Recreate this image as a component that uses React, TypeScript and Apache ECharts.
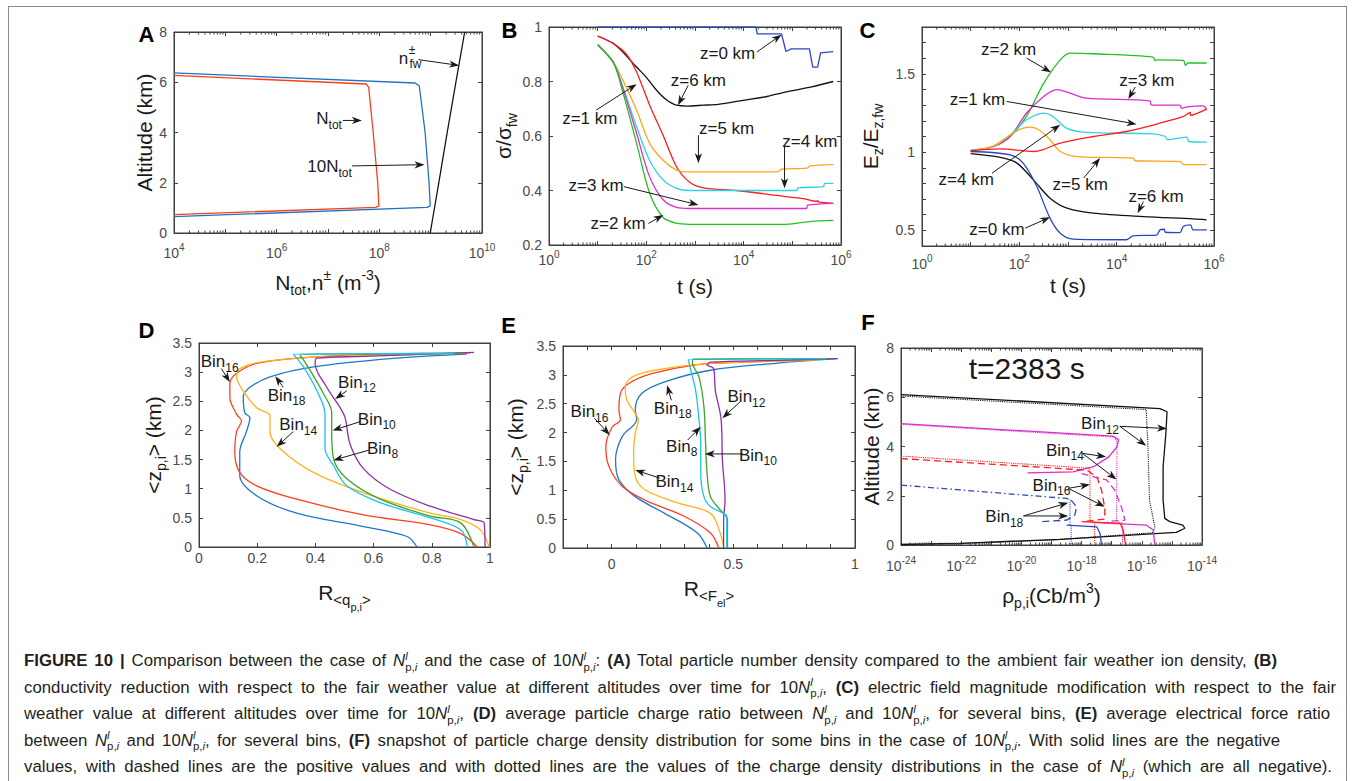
import React, { useEffect, useRef } from "react";
import * as echarts from "echarts";

const FONT = "'Liberation Sans', Arial, Helvetica, sans-serif";
const AX = "#3f3f3f";
const TICK = "#4a4a4a";
const INK = "#1a1a1a";

// ---------------- Panel A: particle density / fair weather ions vs altitude ----------------
const aNtot = [[1e4, 0.73], [8.5e7, 1.02], [9.8e7, 1.08], [9.3e7, 2.0], [7.6e7, 4.0], [6.2e7, 5.8], [5.6e7, 5.93], [1e4, 6.27]];
const aTenNtot = [[1e4, 0.65], [8.5e8, 1.02], [9.8e8, 1.08], [9.3e8, 2.0], [7.8e8, 4.0], [6.0e8, 5.85], [5.0e8, 5.97], [1e4, 6.37]];
const aNfw = [[9.8e8, 0], [1.44e9, 2], [2.1e9, 4], [3.1e9, 6], [4.6e9, 8]];

// ---------------- Panel B: sigma / sigma_fw vs t ----------------
const bZ0 = [[10, 1], [17800, 1], [19000, 0.975], [60000, 0.975], [74000, 0.91], [95000, 0.92], [224000, 0.92], [263000, 0.853], [331000, 0.853], [380000, 0.905], [692000, 0.91]];
const bZ6 = [[10, 0.967], [21, 0.94], [30, 0.915], [63, 0.853], [100, 0.815], [162, 0.768], [250, 0.735], [417, 0.713], [700, 0.71], [1480, 0.713], [3000, 0.716], [9800, 0.731], [30000, 0.745], [76000, 0.762], [250000, 0.78], [692000, 0.8]];
const bZ1 = [[10, 0.967], [21, 0.939], [39, 0.9], [63, 0.835], [117, 0.713], [224, 0.6], [417, 0.487], [776, 0.43], [1480, 0.41], [7080, 0.4], [34700, 0.385], [170000, 0.37], [316000, 0.36], [330000, 0.364], [340000, 0.358], [692000, 0.353]];
const bZ5 = [[10, 0.935], [21, 0.87], [33, 0.805], [63, 0.695], [117, 0.573], [224, 0.51], [417, 0.475], [676, 0.468], [34700, 0.468], [52000, 0.47], [60000, 0.478], [200000, 0.482], [229000, 0.49], [692000, 0.495]];
const bZ4 = [[10, 0.935], [21, 0.87], [33, 0.78], [63, 0.634], [117, 0.51], [224, 0.438], [417, 0.408], [776, 0.4], [123000, 0.4], [130000, 0.41], [436000, 0.414], [460000, 0.426], [692000, 0.426]];
const bZ3 = [[10, 0.935], [21, 0.87], [33, 0.774], [63, 0.61], [117, 0.45], [224, 0.365], [417, 0.338], [776, 0.334], [195000, 0.334], [205000, 0.346], [692000, 0.353]];
const bZ2 = [[10, 0.935], [21, 0.87], [33, 0.76], [63, 0.573], [117, 0.39], [224, 0.3], [417, 0.28], [776, 0.276], [64600, 0.276], [229000, 0.286], [692000, 0.29]];

// ---------------- Panel C: E_z / E_z,fw vs t ----------------
const cZ2 = [[10, 1.01], [29.5, 1.036], [64.6, 1.1], [141, 1.23], [316, 1.44], [692, 1.59], [1100, 1.633], [3300, 1.629], [56000, 1.608], [62000, 1.584], [66000, 1.59], [234000, 1.586], [260000, 1.554], [290000, 1.57], [708000, 1.57]];
const cZ3 = [[10, 1.01], [29.5, 1.036], [64.6, 1.1], [141, 1.25], [316, 1.356], [589, 1.4], [1100, 1.377], [2400, 1.345], [47900, 1.328], [52000, 1.3], [200000, 1.3], [215000, 1.28], [280000, 1.29], [600000, 1.296], [708000, 1.27]];
const cZ4 = [[10, 1.01], [29.5, 1.036], [64.6, 1.11], [141, 1.207], [316, 1.25], [490, 1.228], [933, 1.154], [2400, 1.126], [56000, 1.117], [100000, 1.1], [110000, 1.08], [280000, 1.096], [300000, 1.068], [708000, 1.064]];
const cZ5 = [[10, 1.01], [29.5, 1.04], [64.6, 1.11], [110, 1.15], [170, 1.16], [260, 1.14], [427, 1.079], [692, 1.004], [1514, 0.972], [7244, 0.966], [21900, 0.962], [24000, 0.945], [200000, 0.94], [240000, 0.92], [708000, 0.92]];
const cZ1 = [[10, 1.01], [40.7, 1.021], [195, 1.004], [300, 1.015], [692, 1.058], [3311, 1.1], [15849, 1.132], [77625, 1.185], [234000, 1.228], [323000, 1.254], [330000, 1.235], [708000, 1.275]];
const cZ6 = [[10, 0.99], [40.7, 0.966], [89, 0.93], [195, 0.823], [427, 0.706], [955, 0.642], [3311, 0.61], [35500, 0.588], [371500, 0.573], [708000, 0.567]];
const cZ0 = [[10, 1.004], [64.6, 0.983], [120, 0.93], [229, 0.78], [427, 0.578], [692, 0.482], [1288, 0.444], [15849, 0.44], [21878, 0.465], [66000, 0.47], [77625, 0.503], [95000, 0.507], [100000, 0.488], [200000, 0.486], [234000, 0.525], [330000, 0.535], [371500, 0.503], [708000, 0.503]];

// ---------------- Panel D: R_<q> vs <z> ----------------
const dBin14 = [[0.997, 0], [0.968, 0.29], [0.9, 0.47], [0.795, 0.58], [0.566, 0.93], [0.393, 1.28], [0.278, 1.69], [0.244, 1.98], [0.244, 2.25], [0.198, 2.39], [0.152, 2.68], [0.129, 2.92], [0.14, 3.06], [0.221, 3.18], [0.45, 3.27], [0.795, 3.31], [0.91, 3.33]];
const dBin16 = [[0.956, 0], [0.9, 0.23], [0.795, 0.38], [0.566, 0.55], [0.336, 0.82], [0.198, 1.05], [0.14, 1.28], [0.123, 1.63], [0.129, 1.98], [0.146, 2.16], [0.129, 2.28], [0.106, 2.57], [0.106, 2.8], [0.129, 2.98], [0.198, 3.15], [0.336, 3.24], [0.566, 3.3], [0.933, 3.33]];
const dBin18 = [[0.749, 0], [0.715, 0.18], [0.566, 0.35], [0.336, 0.58], [0.198, 0.88], [0.14, 1.23], [0.14, 1.63], [0.163, 1.98], [0.175, 2.22], [0.158, 2.3], [0.152, 2.57], [0.175, 2.74], [0.244, 2.92], [0.393, 3.09], [0.68, 3.24], [0.92, 3.31]];
const dBin8 = [[0.922, 0], [0.9, 0.29], [0.795, 0.5], [0.623, 0.76], [0.508, 1.05], [0.462, 1.4], [0.433, 1.69], [0.433, 2.28], [0.405, 2.68], [0.359, 3.09], [0.324, 3.31], [0.88, 3.32]];
const dBin10 = [[0.945, 0], [0.9, 0.41], [0.795, 0.53], [0.623, 0.82], [0.508, 1.17], [0.462, 1.52], [0.456, 1.98], [0.456, 2.3], [0.428, 2.63], [0.382, 3.03], [0.347, 3.3], [0.9, 3.32]];
const dBin12 = [[0.983, 0], [0.98, 0.41], [0.945, 0.47], [0.795, 0.7], [0.657, 0.99], [0.566, 1.34], [0.52, 1.75], [0.502, 2.22], [0.485, 2.39], [0.439, 2.74], [0.399, 3.15], [0.405, 3.24], [0.566, 3.27], [0.945, 3.34]];

// ---------------- Panel E: R_<F_el> vs <z> ----------------
const eBin16 = [[0.44, 0], [0.406, 0.26], [0.298, 0.55], [0.137, 0.83], [0.043, 1.07], [-0.011, 1.41], [-0.024, 1.76], [0.003, 2.1], [0.036, 2.22], [0.03, 2.39], [0.036, 2.68], [0.07, 2.85], [0.164, 3.02], [0.339, 3.17], [0.54, 3.22], [0.89, 3.28]];
const eBin18 = [[0.392, 0], [0.352, 0.26], [0.218, 0.6], [0.097, 0.89], [0.03, 1.18], [0.016, 1.53], [0.043, 1.93], [0.09, 2.13], [0.103, 2.22], [0.097, 2.39], [0.124, 2.68], [0.218, 2.88], [0.406, 3.08], [0.675, 3.2], [0.923, 3.28]];
const eBin14 = [[0.46, 0], [0.446, 0.26], [0.406, 0.6], [0.272, 0.78], [0.137, 1.01], [0.097, 1.24], [0.09, 1.64], [0.097, 1.99], [0.11, 2.22], [0.097, 2.33], [0.063, 2.56], [0.056, 2.79], [0.083, 2.96], [0.177, 3.08], [0.406, 3.2], [0.809, 3.25], [0.89, 3.28]];
const eBin8 = [[0.473, 0], [0.473, 0.55], [0.46, 0.6], [0.406, 0.72], [0.379, 0.89], [0.366, 1.3], [0.366, 1.81], [0.359, 2.22], [0.345, 2.73], [0.325, 3.08], [0.315, 3.27], [0.88, 3.28]];
const eBin10 = [[0.476, 0], [0.476, 0.49], [0.446, 0.66], [0.406, 0.89], [0.392, 1.3], [0.386, 1.81], [0.379, 2.45], [0.359, 2.96], [0.332, 3.22], [0.335, 3.27], [0.89, 3.28]];
const eBin12 = [[0.46, 0], [0.46, 0.49], [0.466, 0.83], [0.455, 1.53], [0.45, 2.22], [0.426, 2.73], [0.419, 3.11], [0.392, 3.17], [0.406, 3.22], [0.675, 3.25], [0.93, 3.28]];

// ---------------- Panel F: charge density (Cb/m^3) vs altitude ----------------
const fBlackSolid = [[1e-24, 6.11], [4e-16, 5.54], [6.9e-16, 5.41], [6.3e-16, 4.53], [5.1e-16, 3.18], [5.1e-16, 1.82], [5.8e-16, 1.08], [8.5e-16, 0.95], [2.3e-15, 0.81], [2.7e-15, 0.68], [1.4e-15, 0.51], [1.9e-19, 0.23], [9.3e-23, 0.07], [1e-24, 0.02]];
const fBlackDotted = [[1e-24, 6.05], [1.4e-16, 5.5], [1.6e-16, 3.99], [1.8e-16, 1.82], [2.7e-16, 0.74], [2.4e-16, 0.5], [1e-19, 0.2], [1e-22, 0.06], [1e-24, 0.03]];
const fMagSolidTop = [[1e-24, 4.93], [1.1e-17, 4.42], [1.7e-17, 4.28], [1.5e-17, 3.99], [8e-18, 3.58], [2.5e-18, 3.18], [5.2e-19, 2.97], [1.6e-20, 2.93]];
const fMagSolidLow = [[2.5e-18, 0.92], [1.4e-16, 0.81], [2.4e-16, 0.61], [2.7e-16, 0]];
const fMagDashed = [[1e-18, 2.9], [6.8e-18, 2.64], [1.26e-17, 2.23], [2.1e-17, 1.55], [2.75e-17, 1.01], [7e-18, 0.96]];
const fMagDotted = [[1e-24, 4.9], [1.2e-17, 4.38], [1.5e-17, 4.2], [1.45e-17, 0.95], [2.3e-17, 0.9], [2.3e-17, 0]];
const fRedDashed = [[1e-24, 3.51], [1.5e-18, 3.04], [3.2e-18, 2.77], [4.6e-18, 2.23], [5.9e-18, 1.49], [5.9e-18, 1.05], [1.1e-18, 0.95]];
const fRedDotted = [[1e-24, 3.61], [1.8e-18, 3.12], [1.9e-18, 2.9], [1.9e-18, 0.95], [2.7e-18, 0.9], [2.7e-18, 0]];
const fRedSolid = [[1e-18, 0.95], [1.9e-17, 0.88], [2.4e-17, 0.61], [2.9e-17, 0]];
const fBlueDashDot = [[1e-24, 2.43], [3.2e-19, 1.89], [4.5e-19, 1.82]];
const fBlueDashed = [[4.5e-19, 1.82], [6.8e-19, 1.55], [6e-19, 1.22], [3.2e-19, 1.01], [4.7e-20, 0.95]];
const fBlueDotted = [[4.1e-19, 1.85], [4.1e-19, 0.85], [4.5e-19, 0.8], [4.5e-19, 0]];
const fBlueSolid = [[3.2e-19, 0.81], [3.2e-18, 0.74], [4.1e-18, 0.47], [4.6e-18, 0]];
// F x axis is drawn in decades (log10 of Cb/m^3) on a linear axis, labelled as powers of ten

// ---------------- Annotations (data coordinates) ----------------
const annotations = [
  { g: 0, text: "{n|N}{s|tot}", at: [1.05e7, 4.55], arrows: [[1.95e7, 4.48, 4.57e7, 4.48]] },
  { g: 0, text: "{n|10N}{s|tot}", at: [1.07e7, 2.63], arrows: [[2.95e7, 2.67, 7.6e8, 2.72]] },
  { g: 0, text: "", at: [2.95e8, 6.94], arrows: [[5.75e8, 6.9, 3.6e9, 6.67]] },
  { g: 1, text: "{n|z=0 km}", at: [4677, 0.902], arrows: [[18621, 0.908, 60256, 0.972]] },
  { g: 1, text: "{n|z=6 km}", at: [1175, 0.805], arrows: [[724, 0.786, 447, 0.713]] },
  { g: 1, text: "{n|z=1 km}", at: [6.9, 0.664], arrows: [[9.3, 0.695, 63.1, 0.79]] },
  { g: 1, text: "{n|z=5 km}", at: [4467, 0.627], arrows: [[1175, 0.603, 1175, 0.5]] },
  { g: 1, text: "{n|z=4 km}", at: [229087, 0.579], arrows: [[69183, 0.56, 69183, 0.408]] },
  { g: 1, text: "{n|z=3 km}", at: [9.3, 0.42], arrows: [[34.7, 0.414, 1175, 0.347]] },
  { g: 1, text: "{n|z=2 km}", at: [26.3, 0.279], arrows: [[110, 0.279, 224, 0.31]] },
  { g: 2, text: "{n|z=2 km}", at: [60.3, 1.655], arrows: [[141, 1.601, 447, 1.51]] },
  { g: 2, text: "{n|z=3 km}", at: [41687, 1.458], arrows: [[23988, 1.416, 17378, 1.339]] },
  { g: 2, text: "{n|z=1 km}", at: [13.8, 1.335], arrows: [[55, 1.324, 25704, 1.179]] },
  { g: 2, text: "{n|z=4 km}", at: [8.1, 0.823], arrows: [[27.5, 0.866, 692, 1.175]] },
  { g: 2, text: "{n|z=5 km}", at: [1778, 0.791], arrows: [[2089, 0.834, 4571, 0.962]] },
  { g: 2, text: "{n|z=6 km}", at: [64565, 0.716], arrows: [[35481, 0.684, 26915, 0.61]] },
  { g: 2, text: "{n|z=0 km}", at: [34.7, 0.503], arrows: [[132, 0.514, 427, 0.584]] },
  { g: 3, text: "{n|Bin}{s|16}", at: [0.071, 3.18], arrows: [[0.077, 3.06, 0.106, 2.83]] },
  { g: 3, text: "{n|Bin}{s|18}", at: [0.301, 2.6], arrows: [[0.29, 2.74, 0.262, 2.93]] },
  { g: 3, text: "{n|Bin}{s|12}", at: [0.543, 2.83], arrows: [[0.508, 2.68, 0.468, 2.54]] },
  { g: 3, text: "{n|Bin}{s|10}", at: [0.611, 2.19], arrows: [[0.554, 2.15, 0.459, 2.0]] },
  { g: 3, text: "{n|Bin}{s|14}", at: [0.341, 2.1], arrows: [[0.324, 1.98, 0.267, 1.72]] },
  { g: 3, text: "{n|Bin}{s|8}", at: [0.631, 1.69], arrows: [[0.583, 1.66, 0.462, 1.49]] },
  { g: 4, text: "{n|Bin}{s|16}", at: [-0.091, 2.36], arrows: [[-0.071, 2.25, -0.008, 1.96]] },
  { g: 4, text: "{n|Bin}{s|18}", at: [0.251, 2.42], arrows: [[0.245, 2.56, 0.228, 2.82]] },
  { g: 4, text: "{n|Bin}{s|12}", at: [0.554, 2.62], arrows: [[0.527, 2.53, 0.455, 2.25]] },
  { g: 4, text: "{n|Bin}{s|8}", at: [0.288, 1.76], arrows: [[0.312, 1.87, 0.366, 2.1]] },
  { g: 4, text: "{n|Bin}{s|10}", at: [0.601, 1.61], arrows: [[0.54, 1.63, 0.383, 1.63]] },
  { g: 4, text: "{n|Bin}{s|14}", at: [0.258, 1.15], arrows: [[0.198, 1.21, 0.097, 1.35]] },
  { g: 5, text: "{n|Bin}{s|12}", at: [4.1e-18, 4.93], arrows: [[1.86e-17, 4.82, 6.9e-16, 4.73], [1.86e-17, 4.82, 1.4e-16, 4.03]] },
  { g: 5, text: "{n|Bin}{s|14}", at: [2.8e-19, 3.85], arrows: [[1.07e-18, 3.72, 6.5e-18, 3.58], [1.07e-18, 3.72, 1.45e-17, 2.66]] },
  { g: 5, text: "{n|Bin}{s|16}", at: [1e-19, 2.43], arrows: [[3.6e-19, 2.3, 1.9e-18, 2.46], [3.6e-19, 2.3, 5.9e-18, 1.55]] },
  { g: 5, text: "{n|Bin}{s|18}", at: [2.7e-21, 1.15], arrows: [[1.17e-20, 1.18, 3.6e-19, 1.72], [1.17e-20, 1.18, 3.6e-19, 1.18]] },
];
const fTitle = { text: "t=2383 s", at: [1.5e-20, 7.16] };

// ---------------- Layout ----------------
const grids = [
  { left: 174, top: 32, width: 308, height: 201 },
  { left: 549, top: 27, width: 292, height: 218 },
  { left: 922, top: 27, width: 292, height: 219 },
  { left: 199, top: 343, width: 291, height: 204 },
  { left: 563, top: 346, width: 292, height: 202 },
  { left: 901, top: 348, width: 301, height: 197 },
];
const letters = [
  { t: "A", x: 146.5, y: 34.5 }, { t: "B", x: 509.5, y: 30 }, { t: "C", x: 867.5, y: 30 },
  { t: "D", x: 146.5, y: 330 }, { t: "E", x: 508.5, y: 325 }, { t: "F", x: 868, y: 322 },
];

const logFmt = (v: number) => {
  const e = Math.round(Math.log10(v));
  return e % 2 === 0 ? `{b|10}{s|${e}}` : "";
};
const expFmt = (v: number) => {
  const e = Math.round(v);
  return e % 2 === 0 ? `{b|10}{s|${e}}` : "";
};
const pickFmt = (keep: number[]) => (v: number) => {
  const r = Math.round(v * 10) / 10;
  const k = keep.find((q) => Math.abs(q - r) < 1e-6);
  return k === undefined ? "" : String(k);
};

const panels: any[] = [
  { x: { type: "log", min: 1e4, max: 1e10, splitNumber: 6, fmt: logFmt, margin: 9 }, y: { min: 0, max: 8, interval: 2, margin: 7 },
    xName: "{n|N}{s|tot}{n|,n}{p|±}{n| (m}{p|-3}{n|)}", xGap: 34, yName: "{n|Altitude (km)}", yGap: 17 },
  { x: { type: "log", min: 1, max: 1e6, splitNumber: 6, fmt: logFmt, margin: 4 }, y: { min: 0.2, max: 1, interval: 0.2, margin: 7 },
    xName: "{n|t (s)}", xGap: 31, yName: "{n|σ/σ}{s|fw}", yGap: 28 },
  { x: { type: "log", min: 1, max: 1e6, splitNumber: 6, fmt: logFmt, margin: 7.5 }, y: { min: 0.4, max: 1.8, interval: 0.1, fmt: pickFmt([0.5, 1, 1.5]), margin: 7 },
    xName: "{n|t (s)}", xGap: 29, yName: "{n|E}{s|z}{n|/E}{s|z,fw}", yGap: 37 },
  { x: { type: "value", min: 0, max: 1, interval: 0.2, margin: 4 }, y: { min: 0, max: 3.5, interval: 0.5, margin: 7 },
    xName: "{n|R}{s2|<q}{ss|p,i}{s2|>}", xGap: 26, yName: "{n|<z}{s|p,i}{n|> (km)}", yGap: 31 },
  { x: { type: "value", min: -0.2, max: 1, interval: 0.1, fmt: pickFmt([0, 0.5, 1]), margin: 9 }, y: { min: 0, max: 3.5, interval: 0.5, margin: 7 },
    xName: "{n|R}{s2|<F}{ss|el}{s2|>}", xGap: 21, yName: "{n|<z}{s|p,i}{n|> (km)}", yGap: 33 },
  { x: { type: "value", min: -24, max: -14, interval: 1, fmt: expFmt, margin: 10 }, y: { min: 0, max: 8, interval: 2, margin: 7 },
    xName: "{n|ρ}{s|p,i}{n|(Cb/m}{p|3}{n|)}", xGap: 35, yName: "{n|Altitude (km)}", yGap: 19 },
];

const tickRich = {
  b: { fontSize: 14, fontFamily: FONT, color: TICK },
  s: { fontSize: 10, fontFamily: FONT, color: TICK, padding: [0, 0, 11, 0] },
};
const nameRich = {
  n: { fontSize: 21, fontFamily: FONT, color: INK },
  s: { fontSize: 14, fontFamily: FONT, color: INK, padding: [16, 0, 0, 0] },
  p: { fontSize: 14, fontFamily: FONT, color: INK, padding: [0, 0, 14, 0] },
  s2: { fontSize: 15, fontFamily: FONT, color: INK, padding: [14, 0, 0, 0] },
  ss: { fontSize: 11, fontFamily: FONT, color: INK, padding: [28, 0, 0, 0] },
};
const annRich = {
  n: { fontSize: 17, fontFamily: FONT, color: INK },
  s: { fontSize: 12, fontFamily: FONT, color: INK, padding: [12, 0, 0, 0] },
  p: { fontSize: 12, fontFamily: FONT, color: INK, padding: [0, 0, 12, 0] },
};

function axisPair(i: number, spec: any, dir: "x" | "y", p: any) {
  const base: any = {
    gridIndex: i, type: spec.type || "value", min: spec.min, max: spec.max,
    splitLine: { show: false }, minorTick: { show: false },
    axisTick: { show: true, inside: true, length: 4, lineStyle: { color: AX, width: 1 } },
  };
  if (spec.interval) base.interval = spec.interval;
  if (spec.splitNumber) base.splitNumber = spec.splitNumber;
  if (spec.type === "log") base.logBase = 10;
  const main = {
    ...base,
    position: dir === "x" ? "bottom" : "left",
    axisLine: { show: true, onZero: false, lineStyle: { color: AX, width: 1 } },
    axisLabel: {
      show: true, margin: spec.margin, color: TICK, fontSize: 14, fontFamily: FONT,
      formatter: spec.fmt, rich: tickRich, showMinLabel: true, showMaxLabel: true,
    },
    name: dir === "x" ? p.xName : p.yName,
    nameLocation: "middle",
    nameGap: dir === "x" ? p.xGap : p.yGap,
    nameTextStyle: { rich: nameRich, fontFamily: FONT, fontSize: 21, color: INK },
  };
  const other = {
    ...base,
    position: dir === "x" ? "top" : "right",
    axisLine: { show: true, onZero: false, lineStyle: { color: AX, width: 1 } },
    axisLabel: { show: false },
  };
  return [main, other];
}

// minor ticks (2..9 per decade) for log-scaled x axes, drawn through the axis scale
function minorLogTicks(i: number, lo: number, hi: number, ymin: number, ymax: number, asExp = false) {
  const data: number[][] = [];
  for (let d = lo; d < hi; d++)
    for (let k = 2; k <= 9; k++) {
      const v = k * Math.pow(10, d);
      data.push([asExp ? Math.log10(v) : v, ymin, ymax]);
    }
  return {
    type: "custom", xAxisIndex: 2 * i, yAxisIndex: 2 * i, silent: true, data, z: 4,
    renderItem: (_p: any, api: any) => {
      const b = api.coord([api.value(0), api.value(1)]);
      const t = api.coord([api.value(0), api.value(2)]);
      return {
        type: "group",
        children: [
          { type: "line", shape: { x1: b[0], y1: b[1], x2: b[0], y2: b[1] - 2.5 }, style: { stroke: AX, lineWidth: 1 } },
          { type: "line", shape: { x1: t[0], y1: t[1], x2: t[0], y2: t[1] + 2.5 }, style: { stroke: AX, lineWidth: 1 } },
        ],
      };
    },
  };
}

function line(i: number, data: number[][], color: string, type: any = "solid", smooth = 0, width = 1.3) {
  return {
    type: "line", xAxisIndex: 2 * i, yAxisIndex: 2 * i, data, symbol: "none", showSymbol: false,
    smooth, silent: true, z: 3,
    lineStyle: { color, width, type },
  };
}
const fs = (d: number[][]) => d.map(([r, a]) => [Math.log10(r), a]);

const C = {
  aRed: "#f4401f", aBlue: "#1f72c4",
  bBlue: "#2a47c0", bRed: "#ff1c1c", bOrange: "#ffa61a", bCyan: "#2fd2e0", bMag: "#dc2fc8", bGreen: "#22c222",
  dBlue: "#1f78c8", dRed: "#ff4020", dOrange: "#ffb31a", dCyan: "#1cc2f0", dGreen: "#3aa52a", dPurple: "#8e2fa8",
};

function buildOption() {
  const xAxis: any[] = [];
  const yAxis: any[] = [];
  panels.forEach((p, i) => {
    xAxis.push(...axisPair(i, p.x, "x", p));
    yAxis.push(...axisPair(i, p.y, "y", p));
  });
  const series: any[] = [
    line(0, aTenNtot, C.aBlue), line(0, aNtot, C.aRed), line(0, aNfw, "#111"),
    line(1, bZ0, C.bBlue), line(1, bZ6, "#111", "solid", 0.3), line(1, bZ1, C.bRed, "solid", 0.3), line(1, bZ5, C.bOrange, "solid", 0.3),
    line(1, bZ4, C.bCyan, "solid", 0.3), line(1, bZ3, C.bMag, "solid", 0.3), line(1, bZ2, C.bGreen, "solid", 0.3),
    line(2, cZ2, C.bGreen, "solid", 0.3), line(2, cZ3, C.bMag, "solid", 0.3), line(2, cZ4, C.bCyan, "solid", 0.3), line(2, cZ5, C.bOrange, "solid", 0.3),
    line(2, cZ1, C.bRed, "solid", 0.3), line(2, cZ6, "#111", "solid", 0.3), line(2, cZ0, C.bBlue, "solid", 0.3),
    line(3, dBin18, C.dBlue, "solid", 0.35), line(3, dBin16, C.dRed, "solid", 0.35), line(3, dBin14, C.dOrange, "solid", 0.35),
    line(3, dBin12, C.dPurple, "solid", 0.35), line(3, dBin10, C.dGreen, "solid", 0.35), line(3, dBin8, C.dCyan, "solid", 0.35),
    line(4, eBin18, C.dBlue, "solid", 0.35), line(4, eBin16, C.dRed, "solid", 0.35), line(4, eBin14, C.dOrange, "solid", 0.35),
    line(4, eBin12, C.dPurple, "solid", 0.35), line(4, eBin10, C.dGreen, "solid", 0.35), line(4, eBin8, C.dCyan, "solid", 0.35),
    line(5, fs(fBlackSolid), "#111"), line(5, fs(fBlackDotted), "#111", "dotted", 0, 1.1),
    line(5, fs(fMagSolidTop), C.bMag), line(5, fs(fMagSolidLow), C.bMag), line(5, fs(fMagDashed), C.bMag, [7, 4]), line(5, fs(fMagDotted), C.bMag, "dotted", 0, 1.1),
    line(5, fs(fRedDashed), C.bRed, [7, 4]), line(5, fs(fRedDotted), C.bRed, "dotted", 0, 1.1), line(5, fs(fRedSolid), C.bRed),
    line(5, fs(fBlueDashDot), C.bBlue, [6, 3, 1.5, 3]), line(5, fs(fBlueDashed), C.bBlue, [7, 4]), line(5, fs(fBlueDotted), C.bBlue, "dotted", 0, 1.1), line(5, fs(fBlueSolid), C.bBlue),
    minorLogTicks(0, 4, 10, 0, 8), minorLogTicks(1, 0, 6, 0.2, 1), minorLogTicks(2, 0, 6, 0.4, 1.8), minorLogTicks(5, -24, -14, 0, 8, true),
  ];
  return {
    animation: false,
    backgroundColor: "transparent",
    textStyle: { fontFamily: FONT },
    grid: grids.map((g) => ({ ...g, show: true, borderColor: AX, borderWidth: 1, backgroundColor: "transparent", containLabel: false })),
    xAxis, yAxis, series,
  };
}

function arrowEls(p1: number[], p2: number[]) {
  const dx = p2[0] - p1[0], dy = p2[1] - p1[1];
  const L = Math.hypot(dx, dy) || 1;
  const ux = dx / L, uy = dy / L, nx = -uy, ny = ux;
  const hl = 10, hw = 3.6;
  const bx = p2[0] - ux * hl, by = p2[1] - uy * hl;
  const notch = [p2[0] - ux * hl * 0.72, p2[1] - uy * hl * 0.72];
  return [
    { type: "line", silent: true, z: 50, shape: { x1: p1[0], y1: p1[1], x2: notch[0], y2: notch[1] }, style: { stroke: INK, lineWidth: 1 } },
    { type: "polygon", silent: true, z: 50, shape: { points: [[p2[0], p2[1]], [bx + nx * hw, by + ny * hw], notch, [bx - nx * hw, by - ny * hw]] }, style: { fill: INK } },
  ];
}

function textEl(x: number, y: number, text: string, rich: any, font: string, extra: any = {}) {
  return {
    type: "text", x, y, silent: true, z: 50,
    style: { text, rich, font, fill: INK, align: "center", verticalAlign: "middle", textAlign: "center", textVerticalAlign: "middle", ...extra },
  };
}

function buildGraphics(chart: any) {
  const els: any[] = [];
  const toPx = (g: number, v: number[]) => {
    const x = g === 5 ? Math.log10(v[0]) : v[0];
    return chart.convertToPixel({ xAxisIndex: 2 * g, yAxisIndex: 2 * g }, [x, v[1]]);
  };
  annotations.forEach((a) => {
    const p = toPx(a.g, a.at);
    if (a.text) els.push(textEl(p[0], p[1], a.text, annRich, `17px ${FONT}`));
    a.arrows.forEach((ar) => {
      els.push(...arrowEls(toPx(a.g, [ar[0], ar[1]]), toPx(a.g, [ar[2], ar[3]])));
    });
  });
  // stacked n with ± above and fw below (panel A)
  const nfw = toPx(0, annotations[2].at);
  els.push(textEl(nfw[0], nfw[1], "n", null, `17px ${FONT}`));
  els.push(textEl(nfw[0] + 8.5, nfw[1] - 9, "±", null, `12px ${FONT}`));
  els.push(textEl(nfw[0] + 12, nfw[1] + 5, "fw", null, `12px ${FONT}`));
  const tp = toPx(5, fTitle.at);
  els.push(textEl(tp[0], tp[1], fTitle.text, null, `30px ${FONT}`));
  letters.forEach((l) => els.push(textEl(l.x, l.y, l.t, null, `bold 22px ${FONT}`, { fill: "#000" })));
  return els;
}

const NL = ({ ten }: { ten?: boolean }) => (
  <span style={{ whiteSpace: "nowrap" }}>
    {ten ? "10" : ""}
    <i>N</i>
    <span style={{ display: "inline-block", verticalAlign: "-0.4em", fontSize: "0.68em", lineHeight: "0.95em", textAlign: "left" }}>
      <i style={{ display: "block" }}>l</i>
      <span style={{ display: "block" }}>p,<i>i</i></span>
    </span>
  </span>
);

const captionLines: { w: number; c: React.ReactNode }[] = [
  { w: 1253, c: <><b>FIGURE 10 | </b>Comparison between the case of <NL /> and the case of <NL ten />: <b>(A)</b> Total particle number density compared to the ambient fair weather ion density, <b>(B)</b></> },
  { w: 1312, c: <>conductivity reduction with respect to the fair weather value at different altitudes over time for <NL ten />, <b>(C)</b> electric field magnitude modification with respect to the fair</> },
  { w: 1306, c: <>weather value at different altitudes over time for <NL ten />, <b>(D)</b> average particle charge ratio between <NL /> and <NL ten />, for several bins, <b>(E)</b> average electrical force ratio</> },
  { w: 1256, c: <>between <NL /> and <NL ten />, for several bins, <b>(F)</b> snapshot of particle charge density distribution for some bins in the case of <NL ten />. With solid lines are the negative</> },
  { w: 1308, c: <>values, with dashed lines are the positive values and with dotted lines are the values of the charge density distributions in the case of <NL /> (which are all negative).</> },
];

export default function App() {
  const ref = useRef<HTMLDivElement>(null);
  useEffect(() => {
    const chart = echarts.init(ref.current!, null, { renderer: "svg" });
    chart.setOption(buildOption() as any);
    chart.setOption({ graphic: { elements: buildGraphics(chart) } } as any);
    return () => chart.dispose();
  }, []);
  return (
    <div style={{ position: "fixed", left: 0, top: 0, width: 1354, height: 781, overflow: "hidden", background: "#fff" }}>
      <div style={{ position: "absolute", left: 8, top: 6, width: 1337, height: 820, borderTop: "1.5px solid #8a8a8a", borderLeft: "1.5px solid #8a8a8a", borderRight: "1.5px solid #8a8a8a" }} />
      <div ref={ref} style={{ position: "absolute", left: 0, top: 0, width: 1354, height: 640 }} />
      <div style={{ position: "absolute", left: 24, top: 648, fontFamily: FONT, fontSize: 16.8, color: "#231f20" }}>
        {captionLines.map((l, k) => (
          <div key={k} style={{ width: l.w, height: 26.6, lineHeight: "26.6px", whiteSpace: "nowrap", textAlign: "justify", textAlignLast: "justify" as any }}>
            {l.c}
          </div>
        ))}
      </div>
    </div>
  );
}
